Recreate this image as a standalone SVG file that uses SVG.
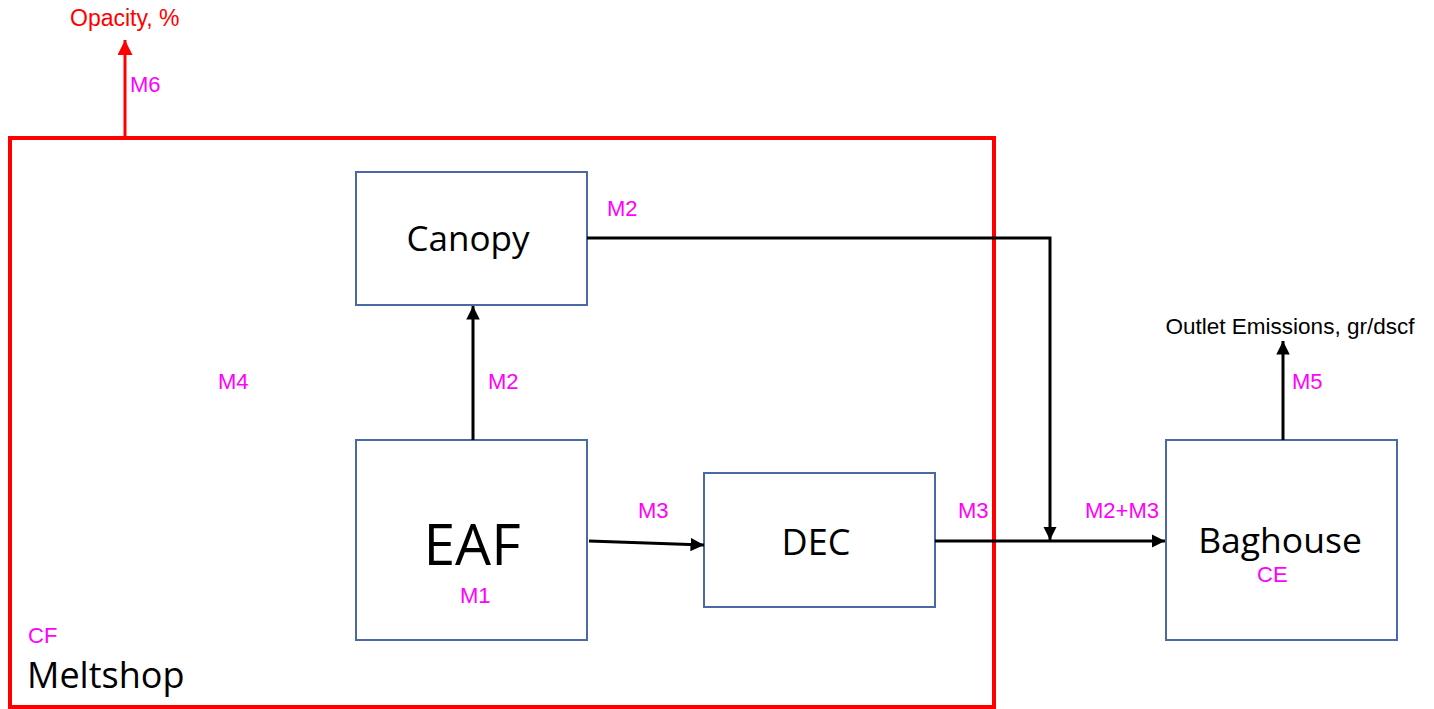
<svg xmlns="http://www.w3.org/2000/svg" width="1434" height="709" viewBox="0 0 1434 709">
<style>
.box{fill:#fff;stroke:#4a6aa5;stroke-width:2}
.lbl{font-family:"Open Sans","Noto Sans",sans-serif;fill:#000;text-anchor:middle}
.m{font-family:"Liberation Sans",Arial,sans-serif;font-size:22px;fill:#ff00ff}
.conn{fill:none;stroke:#000;stroke-width:3}
</style>
<defs>
<marker id="ah" viewBox="0 0 10 10" refX="10" refY="5" markerWidth="4.5" markerHeight="4.5" orient="auto" markerUnits="strokeWidth"><path d="M0,0 L10,5 L0,10 z" fill="#000"/></marker>
<marker id="ahr" viewBox="0 0 10 10" refX="10" refY="5" markerWidth="5" markerHeight="5" orient="auto" markerUnits="strokeWidth"><path d="M0,0 L10,5 L0,10 z" fill="#ff0000"/></marker>
</defs>
<rect width="1434" height="709" fill="#fff"/>
<g id="meltshop">
<rect x="10" y="138" width="984" height="569" fill="none" stroke="#ff0000" stroke-width="4"/>
<text x="28" y="643" class="m">CF</text>
<text x="27" y="688" class="lbl" style="font-size:36px;text-anchor:start">Meltshop</text>
<text x="218" y="389" class="m">M4</text>
</g>
<g id="canopy">
<rect x="356" y="172" width="231" height="133" class="box"/>
<text x="468" y="251" class="lbl" style="font-size:35px">Canopy</text>
</g>
<g id="eaf">
<rect x="356" y="440" width="231" height="200" class="box"/>
<text x="472" y="565" class="lbl" style="font-size:57px">EAF</text>
<text x="460" y="603" class="m">M1</text>
</g>
<g id="dec">
<rect x="704" y="473" width="231" height="134" class="box"/>
<text x="816" y="555" class="lbl" style="font-size:36px">DEC</text>
</g>
<g id="baghouse">
<rect x="1166" y="440" width="231" height="200" class="box"/>
<text x="1280" y="553" class="lbl" style="font-size:35.5px">Baghouse</text>
<text x="1257" y="582" class="m">CE</text>
</g>
<g id="connectors">
<line x1="125" y1="138" x2="125" y2="40" stroke="#ff0000" stroke-width="3" marker-end="url(#ahr)"/>
<line x1="473" y1="440" x2="473" y2="306" class="conn" marker-end="url(#ah)"/>
<line x1="589" y1="541" x2="704" y2="545" class="conn" marker-end="url(#ah)"/>
<polyline points="587,238 1050,238 1050,540" class="conn" marker-end="url(#ah)"/>
<line x1="935" y1="541" x2="1165" y2="541" class="conn" marker-end="url(#ah)"/>
<line x1="1283" y1="440" x2="1283" y2="341" class="conn" marker-end="url(#ah)"/>
</g>
<g id="labels">
<text x="70" y="26" font-family="Liberation Sans, Arial, sans-serif" font-size="23" fill="#ff0000">Opacity, %</text>
<text x="130" y="92" class="m">M6</text>
<text x="607" y="216" class="m">M2</text>
<text x="488" y="389" class="m">M2</text>
<text x="638" y="518" class="m">M3</text>
<text x="958" y="518" class="m">M3</text>
<text x="1085" y="518" class="m">M2+M3</text>
<text x="1292" y="389" class="m">M5</text>
<text x="1290" y="334" font-family="Liberation Sans, Arial, sans-serif" font-size="22.5" fill="#000" text-anchor="middle">Outlet Emissions, gr/dscf</text>
</g>
</svg>
